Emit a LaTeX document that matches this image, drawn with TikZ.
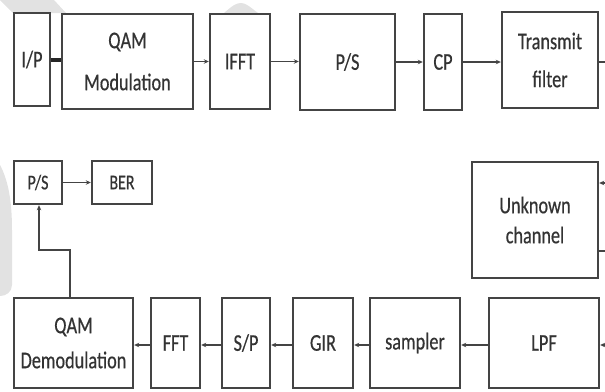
\documentclass[tikz,border=0pt]{standalone}
\usepackage{fontspec}
\setmainfont[FakeStretch=0.76,FakeBold=0.5]{Carlito}
\usetikzlibrary{arrows.meta,calc}
\definecolor{boxline}{HTML}{444444}
\definecolor{txt}{HTML}{333333}
\definecolor{wm}{HTML}{E2E2E2}
\tikzset{
  blk/.style={draw=boxline, line width=2.4pt, fill=white, inner sep=0pt, align=center,
    text=txt, font=\fontsize{24}{40}\selectfont},
  conn/.style={draw=boxline, line width=1.5pt, -{Stealth[length=5pt,width=4.5pt]}},
  plain/.style={draw=boxline, line width=1.5pt},
  stub/.style={draw=black!85, line width=4pt}
}
\begin{document}
\begin{tikzpicture}[x=1pt,y=-1pt]
\useasboundingbox (0,0) rectangle (605,391);
% faint watermark shapes
\fill[wm] (0,0) -- (54,0) -- (66,13) -- (13,13) -- cycle;
\fill[wm] (224,13) .. controls (232,6) and (236,3) .. (241,3) .. controls (246,3) and (250,7) .. (258,13) -- cycle;
\fill[wm] (0,165) .. controls (8,180) and (12,200) .. (12,230) -- (12,285) .. controls (12,292) and (6,296) .. (0,296) -- cycle;
% top row
\node[blk, minimum width=36pt, minimum height=93pt] (ip) at (32,59.5) {I/P};
\node[blk, minimum width=131pt, minimum height=95pt, font=\fontsize{24}{42}\selectfont] (qam) at (127.5,61.5) {QAM\\Modulation};
\node[blk, minimum width=60pt, minimum height=95pt] (ifft) at (240,61.5) {IFFT};
\node[blk, minimum width=95pt, minimum height=96pt] (ps1) at (347.5,62) {P/S};
\node[blk, minimum width=38pt, minimum height=96pt] (cp) at (443,62) {CP};
\node[blk, minimum width=96pt, minimum height=96pt, font=\fontsize{24}{38}\selectfont] (tx) at (550,60) {Transmit\\filter};
% middle
\node[blk, minimum width=48pt, minimum height=43pt, font=\fontsize{21}{24}\selectfont] (ps2) at (38,182.5) {P/S};
\node[blk, minimum width=60pt, minimum height=43pt, font=\fontsize{21}{24}\selectfont] (ber) at (122,182.5) {BER};
\node[blk, minimum width=126pt, minimum height=116pt, font=\fontsize{24}{30}\selectfont] (unk) at (535,220) {Unknown\\channel};
% bottom row
\node[blk, minimum width=119pt, minimum height=90pt, font=\fontsize{24}{35}\selectfont] (qamd) at (73.5,343) {QAM\\Demodulation};
\node[blk, minimum width=49pt, minimum height=90pt] (fft) at (175.5,343) {FFT};
\node[blk, minimum width=48pt, minimum height=90pt] (sp) at (246,343) {S/P};
\node[blk, minimum width=60pt, minimum height=90pt] (gir) at (323,343) {GIR};
\node[blk, minimum width=90pt, minimum height=90pt] (samp) at (415,343) {sampler};
\node[blk, minimum width=110pt, minimum height=90pt] (lpf) at (544,343) {LPF};
% free ends at the right border
\coordinate (r1) at (605,62);
\coordinate (r2) at (605,183);
\coordinate (r3) at (605,251);
\coordinate (r4) at (605,345);
\coordinate (b1) at (70,250);
\coordinate (b2) at (39,250);
% connectors
\draw[stub] (ip.east) -- (ip.east -| qam.west);
\draw[conn] (qam.east) -- (qam.east -| ifft.west);
\draw[conn] (ifft.east) -- (ifft.east -| ps1.west);
\draw[conn] (ps1.east) -- (ps1.east -| cp.west);
\draw[conn] (cp.east) -- (cp.east -| tx.west);
\draw[plain] (r1 -| tx.east) -- (r1);
\draw[conn] (r2) -- (r2 -| unk.east);
\draw[plain] (r3 -| unk.east) -- (r3);
\draw[conn] (r4) -- (r4 -| lpf.east);
\draw[conn] (r4 -| lpf.west) -- (r4 -| samp.east);
\draw[conn] (r4 -| samp.west) -- (r4 -| gir.east);
\draw[conn] (r4 -| gir.west) -- (r4 -| sp.east);
\draw[conn] (r4 -| sp.west) -- (r4 -| fft.east);
\draw[conn] (r4 -| fft.west) -- (r4 -| qamd.east);
\draw[conn] (b1 |- qamd.north) -- (b1) -- (b2) -- (b2 |- ps2.south);
\draw[conn] (ps2.east) -- (ber.west);
\end{tikzpicture}
\end{document}
